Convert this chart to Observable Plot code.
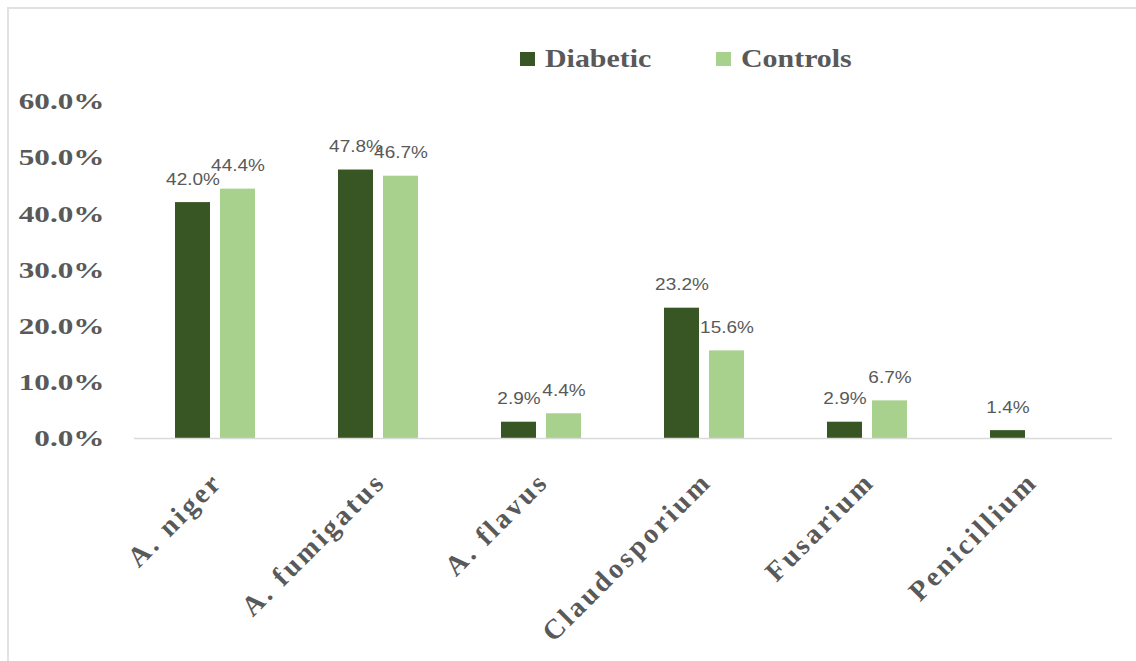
<!DOCTYPE html>
<html>
<head>
<meta charset="utf-8">
<script src="https://cdn.jsdelivr.net/npm/d3@7"></script>
<script src="https://cdn.jsdelivr.net/npm/@observablehq/plot@0.6"></script>
<style>
  html, body { margin: 0; padding: 0; background: #fff; }
  #wrap { position: relative; width: 1136px; height: 661px; overflow: hidden; background: #fff; }
  #frame { position: absolute; left: 7px; top: 7px; width: 1200px; height: 700px;
           border-left: 2px solid #e2e2e2; border-top: 2px solid #e2e2e2; pointer-events: none; }
  #legend { position: relative; height: 80px; width: 1136px; }
  .lg { position: absolute; top: 44px; display: flex; align-items: center;
        font-family: "Liberation Serif", serif; font-weight: bold; font-size: 26px;
        color: #595959; }
  .lg span { display: inline-block; transform: scaleX(1.15); transform-origin: left center; }
  .sw { width: 15px; height: 14px; margin-right: 10px; }
  g.xlab text { letter-spacing: 3px; }
</style>
</head>
<body>
<div id="wrap">
  <div id="legend"></div>
  <div id="chart"></div>
  <div id="frame"></div>
</div>
<script>
const categories = ["A. niger", "A. fumigatus", "A. flavus", "Claudosporium", "Fusarium", "Penicillium"];
const series = ["Diabetic", "Controls"];
const diabetic = [42.0, 47.8, 2.9, 23.2, 2.9, 1.4];
const controls = [44.4, 46.7, 4.4, 15.6, 6.7, null];
const yTicks = [0, 10, 20, 30, 40, 50, 60];
const colors = ["#375623", "#A9D18E"];

const data = [];
categories.forEach((c, i) => {
  data.push({cat: c, series: series[0], value: diabetic[i]});
  data.push({cat: c, series: series[1], value: controls[i]});
});
const present = data.filter(d => d.value != null);

// legend
const legend = document.getElementById("legend");
const lgX = [520, 716];
series.forEach((s, i) => {
  const el = document.createElement("div");
  el.className = "lg";
  el.style.left = lgX[i] + "px";
  el.innerHTML = `<div class="sw" style="background:${colors[i]}"></div><span>${s}</span>`;
  legend.appendChild(el);
});

const chart = Plot.plot({
  width: 1136,
  height: 581,
  marginTop: 21,
  marginBottom: 223,
  marginLeft: 132,
  marginRight: 23,
  style: {background: "transparent", color: "#595959"},
  fx: {domain: categories, padding: 0, label: null, axis: null},
  x: {domain: series, paddingInner: 0.217, paddingOuter: 0.886, axis: null},
  y: {domain: [0, 60], label: null},
  color: {domain: series, range: colors},
  marks: [
    Plot.axisY({
      ticks: yTicks, tickSize: 0, tickPadding: 30,
      tickFormat: d => d.toFixed(1) + "%",
      fontSize: 24, fontWeight: "bold", fontFamily: "Liberation Serif, serif",
      fill: "#595959", label: null
    }),
    Plot.barY(present, {fx: "cat", x: "series", y: "value", fill: "series"}),
    Plot.ruleY([0], {stroke: "#d9d9d9", strokeWidth: 1.5}),
    Plot.text(present, {
      fx: "cat", x: "series", y: "value",
      text: d => d.value.toFixed(1) + "%",
      lineAnchor: "bottom", dy: -18,
      fontSize: 16.5, fontFamily: "Liberation Sans, Arial, sans-serif",
      fill: "#595959", className: "vlab"
    }),
    Plot.text(categories, {
      fx: d => d, text: d => d,
      frameAnchor: "bottom", rotate: -45, textAnchor: "end", lineAnchor: "bottom",
      dx: 8, dy: 45,
      fontSize: 28, fontWeight: "bold", fontFamily: "Liberation Serif, serif",
      fill: "#595959", className: "xlab"
    })
  ]
});
document.getElementById("chart").appendChild(chart);

// widen glyphs horizontally like the reference rendering
function stretch(texts, k, anchor) {
  const ns = "http://www.w3.org/2000/svg";
  texts.forEach(el => {
    const g = document.createElementNS(ns, "g");
    el.parentNode.insertBefore(g, el);
    g.appendChild(el);
    const b = g.getBBox();
    const ax = anchor === "end" ? b.x + b.width : b.x + b.width / 2;
    g.setAttribute("transform", `translate(${ax},0) scale(${k},1) translate(${-ax},0)`);
  });
}
const yLabels = Array.from(chart.querySelectorAll('g[aria-label="y-axis tick label"] text'));
stretch(yLabels, 1.3, "end");
stretch(Array.from(chart.querySelectorAll("g.vlab text")), 1.15, "middle");
</script>
</body>
</html>
